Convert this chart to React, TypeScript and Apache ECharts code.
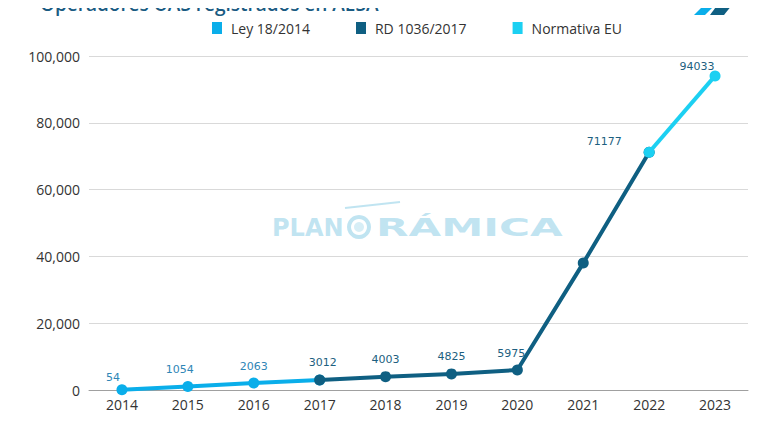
import React, { useEffect, useRef } from "react";
import * as echarts from "echarts";

const years = ["2014", "2015", "2016", "2017", "2018", "2019", "2020", "2021", "2022", "2023"];
const ley = [54, 1054, 2063, 3012, null, null, null, null, null, null];
const rd = [null, null, null, 3012, 4003, 4825, 5975, 38000, 71177, null];
const eu = [null, null, null, null, null, null, null, null, 71177, 94033];
const seriesNames = ["Ley 18/2014", "RD 1036/2017", "Normativa EU"];
const yTicks = [0, 20000, 40000, 60000, 80000, 100000];

const C_LEY = "#0aaeea";
const C_RD = "#0f5f82";
const C_EU = "#1cd0f2";

export default function App() {
  const ref = useRef<HTMLDivElement>(null);
  useEffect(() => {
    if (!ref.current) return;
    const chart = echarts.init(ref.current, null, { renderer: "svg" });
    const lblBase = { show: true, fontFamily: "DejaVu Sans", fontSize: 11 };
    const mk = (arr: (number | null)[], hideIdx: number[], labelColor: string, special: Record<number, any> = {}) =>
      arr.map((v, i) => {
        if (v === null) return null;
        const label = hideIdx.includes(i)
          ? { show: false }
          : { ...lblBase, color: labelColor, position: "top", distance: 6, ...(special[i] || {}) };
        return { value: v, label };
      });
    chart.setOption({
      animation: false,
      textStyle: { fontFamily: "Open Sans" },
      legend: {
        data: seriesNames,
        left: 207,
        top: 16,
        icon: "rect",
        itemWidth: 10,
        itemHeight: 12,
        itemGap: 46,
        textStyle: { fontFamily: "Open Sans", fontSize: 14, color: "#333", padding: [0, 0, 0, 4] },
      },
      grid: { left: 89, right: 32, top: 56, bottom: 50, containLabel: false },
      xAxis: {
        type: "category",
        data: years,
        boundaryGap: true,
        axisLine: { lineStyle: { color: "#a0a0a0", width: 1 } },
        axisTick: { show: false },
        axisLabel: { color: "#333", fontSize: 14, fontFamily: "Open Sans", margin: 7 },
      },
      yAxis: {
        type: "value",
        min: 0,
        max: yTicks[yTicks.length - 1],
        interval: yTicks[1] - yTicks[0],
        axisLine: { show: false },
        axisTick: { show: false },
        splitLine: { lineStyle: { color: "#d9d9d9", width: 1 } },
        axisLabel: {
          color: "#333",
          fontSize: 14,
          fontFamily: "Open Sans",
          margin: 9,
          formatter: (v: number) => v.toLocaleString("en-US"),
        },
      },
      series: [
        {
          name: seriesNames[0],
          type: "line",
          data: mk(ley, [3], "#2f86b6", { 0: { offset: [-9, 5] }, 1: { offset: [-8, 0] } }),
          lineStyle: { color: C_LEY, width: 4 },
          itemStyle: { color: C_LEY },
          symbol: "circle",
          symbolSize: 11,
          z: 2,
        },
        {
          name: seriesNames[1],
          type: "line",
          data: mk(rd, [7, 8], "#1d5f80", { 3: { offset: [3, 0] }, 6: { offset: [-6, 0] } }),
          lineStyle: { color: C_RD, width: 4 },
          itemStyle: { color: C_RD },
          symbol: "circle",
          symbolSize: 11,
          z: 3,
        },
        {
          name: seriesNames[2],
          type: "line",
          data: mk(eu, [], "#1d5f80", {
            8: { position: "left", distance: 22, offset: [0, -11] },
            9: { offset: [-18, 8] },
          }),
          lineStyle: { color: C_EU, width: 4 },
          itemStyle: { color: C_EU },
          symbol: "circle",
          symbolSize: 11,
          z: 4,
        },
      ],
      graphic: [
        {
          type: "text",
          left: 40,
          top: -6,
          style: {
            text: "Operadores UAS registrados en AESA",
            font: "600 19px 'Open Sans'",
            fill: "#1a5b82",
          },
        },
        {
          type: "text",
          left: 57,
          top: 431,
          style: {
            text: "Gráfico de Evolución de los operadores UAS registrados en AESA. Fuente: Agencia Estatal de Seguridad Aérea (AESA)",
            font: "12px 'Open Sans'",
            fill: "#444",
          },
        },
        { type: "polygon", shape: { points: [[672, 0], [716, 0], [709, 9], [686, 6]] }, style: { fill: C_RD } },
        { type: "polygon", shape: { points: [[702, 7], [713, 7], [705, 15], [694, 15]] }, style: { fill: C_LEY } },
        { type: "polygon", shape: { points: [[721, 0], [736, 0], [724, 15], [710, 15]] }, style: { fill: C_RD } },
        {
          type: "group",
          z: 0,
          children: [
            { type: "text", x: 272, y: 216, style: { text: "PLAN", font: "bold 24px 'DejaVu Sans'", fill: "rgba(140,205,230,0.55)" } },
            { type: "ring", shape: { cx: 359, cy: 227, r: 12, r0: 8 }, style: { fill: "rgba(140,205,230,0.55)" } },
            { type: "circle", shape: { cx: 359, cy: 227, r: 5 }, style: { fill: "rgba(140,205,230,0.35)" } },
            { type: "line", shape: { x1: 345, y1: 208, x2: 400, y2: 202 }, style: { stroke: "rgba(140,205,230,0.55)", lineWidth: 2 } },
            { type: "text", x: 376, y: 216, scaleX: 1.76, style: { text: "RÁMICA", font: "bold 24px 'DejaVu Sans'", fill: "rgba(140,205,230,0.55)" } },
          ],
        },
      ],
    });
    return () => chart.dispose();
  }, []);
  return <div ref={ref} style={{ width: 780, height: 440, margin: -8 }} />;
}
